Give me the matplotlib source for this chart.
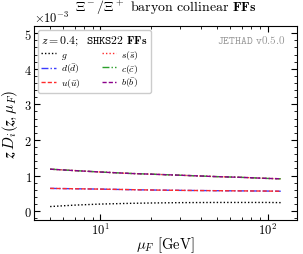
import numpy as np
import matplotlib
matplotlib.use("Agg")
import matplotlib.pyplot as plt
from matplotlib.ticker import AutoMinorLocator, LogLocator, NullFormatter

plt.rcParams['font.family'] = ['cmr10', 'DejaVu Serif']
plt.rcParams['mathtext.fontset'] = 'cm'
plt.rcParams['axes.unicode_minus'] = False
plt.rcParams['axes.formatter.use_mathtext'] = True

# scale mu_F [GeV] and z D_i(z, mu_F) in units of 1e-3
mu = [5, 7, 10, 15, 20, 30, 50, 70, 100, 120]
ff_g = [0.13, 0.17, 0.20, 0.22, 0.23, 0.24, 0.245, 0.245, 0.245, 0.24]
ff_s = [1.18, 1.14, 1.10, 1.06, 1.04, 1.01, 0.97, 0.95, 0.92, 0.91]
ff_d = [0.64, 0.63, 0.62, 0.605, 0.595, 0.585, 0.575, 0.57, 0.565, 0.56]
ff_u = [0.64, 0.63, 0.62, 0.605, 0.595, 0.585, 0.575, 0.57, 0.565, 0.56]
ff_c = [1.18, 1.14, 1.10, 1.06, 1.04, 1.01, 0.97, 0.95, 0.92, 0.91]
ff_b = [1.18, 1.14, 1.10, 1.06, 1.04, 1.01, 0.97, 0.95, 0.92, 0.91]

fig = plt.figure(figsize=(3.03, 2.55), dpi=100)
ax = fig.add_axes([0.112, 0.133, 0.868, 0.761])

sc = 1e-3
ax.plot(mu, np.array(ff_g) * sc, color='black', ls=(0, (1, 1.5)), lw=1.0, label=r'$g$')
ax.plot(mu, np.array(ff_d) * sc, color='#3b3bff', ls=(0, (5, 1.5, 1, 1.5)), lw=1.0, label=r'$d(\bar{d})$')
ax.plot(mu, np.array(ff_u) * sc, color='#ff2a2a', ls=(0, (3, 1.5)), lw=1.0, label=r'$u(\bar{u})$')
ax.plot(mu, np.array(ff_s) * sc, color='#ff2a2a', ls=(0, (1, 1.5)), lw=1.0, label=r'$s(\bar{s})$')
ax.plot(mu, np.array(ff_c) * sc, color='#2ca02c', ls=(0, (5, 1.5, 1, 1.5)), lw=1.0, label=r'$c(\bar{c})$')
ax.plot(mu, np.array(ff_b) * sc, color='#8b008b', ls=(0, (3, 1.5)), lw=1.0, label=r'$b(\bar{b})$')

ax.set_xscale('log')
ax.set_xlim(4, 150)
ax.set_ylim(-0.25e-3, 5.2e-3)
ax.ticklabel_format(axis='y', style='sci', scilimits=(-3, -3))
ax.yaxis.get_offset_text().set_fontsize(9)
ax.yaxis.set_minor_locator(AutoMinorLocator(5))
ax.xaxis.set_minor_locator(LogLocator(base=10, subs=np.arange(2, 10)))
ax.xaxis.set_minor_formatter(NullFormatter())
ax.tick_params(which='both', direction='in', top=True, right=True, labelsize=9, pad=1.5)
ax.tick_params(which='major', length=4)
ax.tick_params(which='minor', length=2)

ax.set_title(r'$\Xi^-/\bar{\Xi}^+$ baryon collinear $\mathbf{FFs}$', fontsize=10, pad=11)
ax.set_xlabel(r'$\boldsymbol{\mu_F}$ [GeV]', fontsize=10.5, labelpad=-2.5)
ax.set_ylabel(r'$\boldsymbol{z\,D_i(z,\mu_F)}$', fontsize=11, labelpad=3)

ax.text(0.955, 0.965, r'$\mathtt{JETHAD\ v0.5.0}$', transform=ax.transAxes,
        ha='right', va='top', fontsize=8, color='#999999')

leg = ax.legend(ncol=2, loc='upper left', fontsize=7, handlelength=1.5,
                handletextpad=0.5, columnspacing=2.2, labelspacing=0.1,
                borderpad=0.35, borderaxespad=0.4,
                title=r'$z = 0.4$;  $\mathtt{SHKS22}$ $\mathbf{FFs}$',
                title_fontsize=8.5, framealpha=1.0, edgecolor='#cccccc')
leg._legend_box.align = 'left'

fig.savefig('out.png', dpi=100)
